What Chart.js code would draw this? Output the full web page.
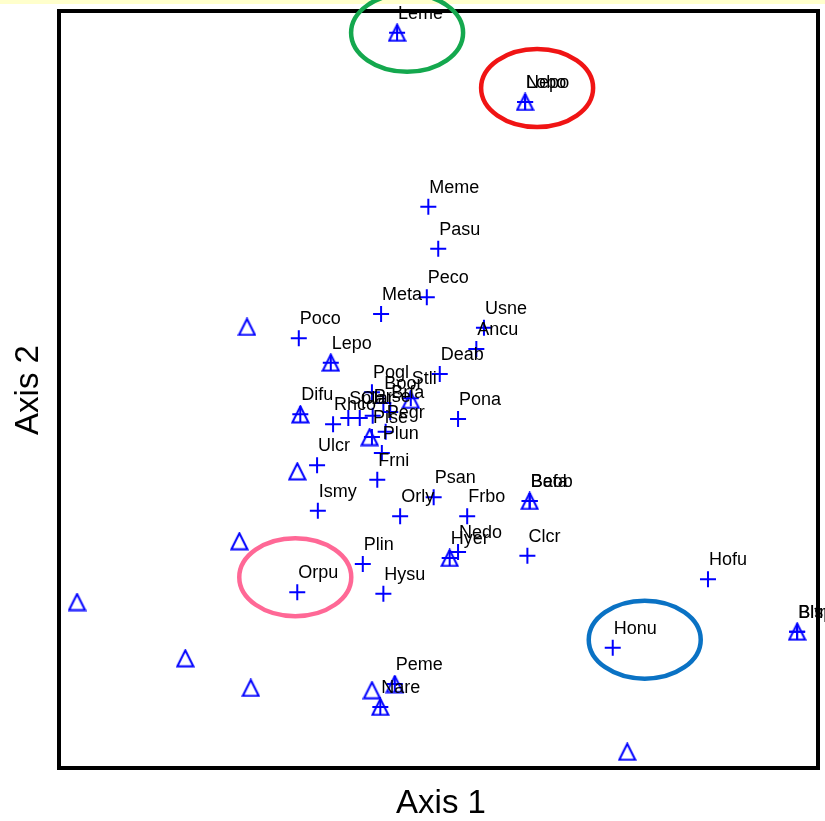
<!DOCTYPE html>
<html>
<head>
<meta charset="utf-8">
<title>Ordination: Axis 1 vs Axis 2</title>
<script src="https://cdn.jsdelivr.net/npm/chart.js@4/dist/chart.umd.min.js"></script>
<style>
  html, body { margin: 0; padding: 0; background: #ffffff; }
  #wrap { width: 825px; height: 821px; position: relative; }
</style>
</head>
<body>
<div id="wrap"><canvas id="ord" width="825" height="821"></canvas></div>
<script>
// Species scores (labelled crosses)
const speciesNames = [
  "Leme", "Lobo", "Nepo", "Meme", "Pasu", "Peco", "Meta", "Poco", "Usne", "Ancu",
  "Deab", "Lepo", "Pogl", "Stli", "Boor", "Difu", "Rhco", "Spla", "Clar", "Prse",
  "Brfa", "Pise", "Pegr", "Pona", "Plun", "Frni", "Ulcr", "Ismy", "Psan", "Orly",
  "Frbo", "Beob", "Bafa", "Clcr", "Nedo", "Hyer", "Plin", "Hysu", "Orpu", "Hofu",
  "Honu", "Bltr", "Blsp", "Peme", "Nare"
];
const speciesAxis1 = [
  44.5, 61.3, 61.3, 48.6, 49.9, 48.4, 42.4, 31.6, 55.9, 54.9,
  50.1, 35.8, 41.2, 46.3, 42.7, 31.8, 36.1, 38.1, 39.6, 41.3,
  43.6, 41.2, 43.0, 52.5, 42.5, 41.9, 34.0, 34.1, 49.3, 44.9,
  53.7, 61.9, 61.9, 61.6, 52.5, 51.4, 40.0, 42.7, 31.4, 85.3,
  72.8, 97.0, 97.0, 44.2, 42.3
];
const speciesAxis2 = [
  97.0, 87.9, 87.9, 74.1, 68.6, 62.2, 60.0, 56.8, 58.2, 55.4,
  52.1, 53.6, 49.7, 48.9, 48.3, 46.8, 45.5, 46.3, 46.3, 46.6,
  47.1, 43.8, 44.5, 46.2, 41.7, 38.2, 40.1, 34.1, 35.9, 33.4,
  33.4, 35.4, 35.4, 28.2, 28.7, 27.9, 27.1, 23.2, 23.4, 25.1,
  16.1, 18.2, 18.2, 11.3, 8.3
];

// Sample unit scores (triangles)
const siteAxis1 = [
  44.5, 61.3, 24.8, 35.8, 31.8, 46.3, 40.9, 31.4, 61.9, 51.4,
  23.8, 2.5, 97.0, 16.7, 25.3, 41.2, 44.2, 42.3, 74.7
];
const siteAxis2 = [
  97.0, 87.9, 58.3, 53.6, 46.8, 48.7, 43.8, 39.3, 35.4, 27.9,
  30.1, 22.1, 18.2, 14.7, 10.8, 10.5, 11.3, 8.3, 2.4
];

// Axis titles
const axisTitleX = "Axis 1";
const axisTitleY = "Axis 2";

// Highlight rings drawn around selected species
const highlights = [
  { species: "Leme", color: "#14a84e", dx: 10, dy: 0 },
  { species: "Lobo", color: "#f01414", dx: 12, dy: -14 },
  { species: "Orpu", color: "#ff6896", dx: -2, dy: -15 },
  { species: "Honu", color: "#0a72c4", dx: 32, dy: -8 }
];

const BLUE = "#0000ff";

// open triangle marker
function makeTriangle() {
  const c = document.createElement("canvas");
  c.width = 19; c.height = 19;
  const g = c.getContext("2d");
  g.strokeStyle = BLUE;
  g.lineWidth = 2;
  g.lineJoin = "miter";
  g.beginPath();
  g.moveTo(9.5, 1.5);
  g.lineTo(17.5, 17.5);
  g.lineTo(1.5, 17.5);
  g.closePath();
  g.stroke();
  return c;
}

const speciesPoints = speciesNames.map((n, i) => ({ x: speciesAxis1[i], y: speciesAxis2[i] }));
const sitePoints = siteAxis1.map((v, i) => ({ x: v, y: siteAxis2[i] }));

const decorations = {
  id: "decorations",
  beforeDraw(chart) {
    const ctx = chart.ctx;
    ctx.save();
    ctx.fillStyle = "#ffffff";
    ctx.fillRect(0, 0, chart.width, chart.height);
    ctx.fillStyle = "#ffffcc";
    ctx.fillRect(0, 0, chart.width, 4);
    ctx.restore();
  },
  afterDatasetsDraw(chart) {
    const ctx = chart.ctx;
    const ca = chart.chartArea;
    const xs = chart.scales.x, ys = chart.scales.y;
    ctx.save();

    // species labels
    ctx.font = "18px 'Liberation Sans', Arial, sans-serif";
    ctx.fillStyle = "#000000";
    ctx.textAlign = "left";
    ctx.textBaseline = "alphabetic";
    speciesNames.forEach((n, i) => {
      const px = xs.getPixelForValue(speciesAxis1[i]);
      const py = ys.getPixelForValue(speciesAxis2[i]);
      ctx.fillText(n, px + 1, py - 14);
    });

    // frame
    ctx.strokeStyle = "#000000";
    ctx.lineWidth = 4;
    ctx.strokeRect(ca.left + 1, ca.top + 1, ca.width - 3, ca.height - 3);

    // highlight rings
    ctx.lineWidth = 4.5;
    highlights.forEach(h => {
      const i = speciesNames.indexOf(h.species);
      const cx = xs.getPixelForValue(speciesAxis1[i]) + h.dx;
      const cy = ys.getPixelForValue(speciesAxis2[i]) + h.dy;
      ctx.strokeStyle = h.color;
      ctx.beginPath();
      ctx.ellipse(cx, cy, 56, 39, 0, 0, Math.PI * 2);
      ctx.stroke();
    });

    // axis titles
    ctx.fillStyle = "#000000";
    ctx.font = "33px 'Liberation Sans', Arial, sans-serif";
    ctx.textAlign = "center";
    ctx.textBaseline = "middle";
    ctx.fillText(axisTitleX, (ca.left + ca.right) / 2 + 2, 804);
    ctx.translate(29, (ca.top + ca.bottom) / 2);
    ctx.rotate(-Math.PI / 2);
    ctx.fillText(axisTitleY, 0, 0);
    ctx.restore();
  }
};

new Chart(document.getElementById("ord"), {
  type: "scatter",
  data: {
    datasets: [
      {
        label: "Sample units",
        data: sitePoints,
        pointStyle: makeTriangle(),
        pointRadius: 9,
        clip: false
      },
      {
        label: "Species",
        data: speciesPoints,
        pointStyle: "cross",
        pointRadius: 8,
        borderColor: BLUE,
        backgroundColor: BLUE,
        pointBorderWidth: 2,
        clip: false
      }
    ]
  },
  options: {
    responsive: false,
    animation: false,
    events: [],
    layout: { autoPadding: false, padding: { left: 58, right: 5, top: 10, bottom: 51 } },
    plugins: { legend: { display: false }, tooltip: { enabled: false } },
    scales: {
      x: { type: "linear", min: 0, max: 100, display: false },
      y: { type: "linear", min: 0, max: 100, display: false }
    }
  },
  plugins: [decorations]
});
</script>
</body>
</html>
